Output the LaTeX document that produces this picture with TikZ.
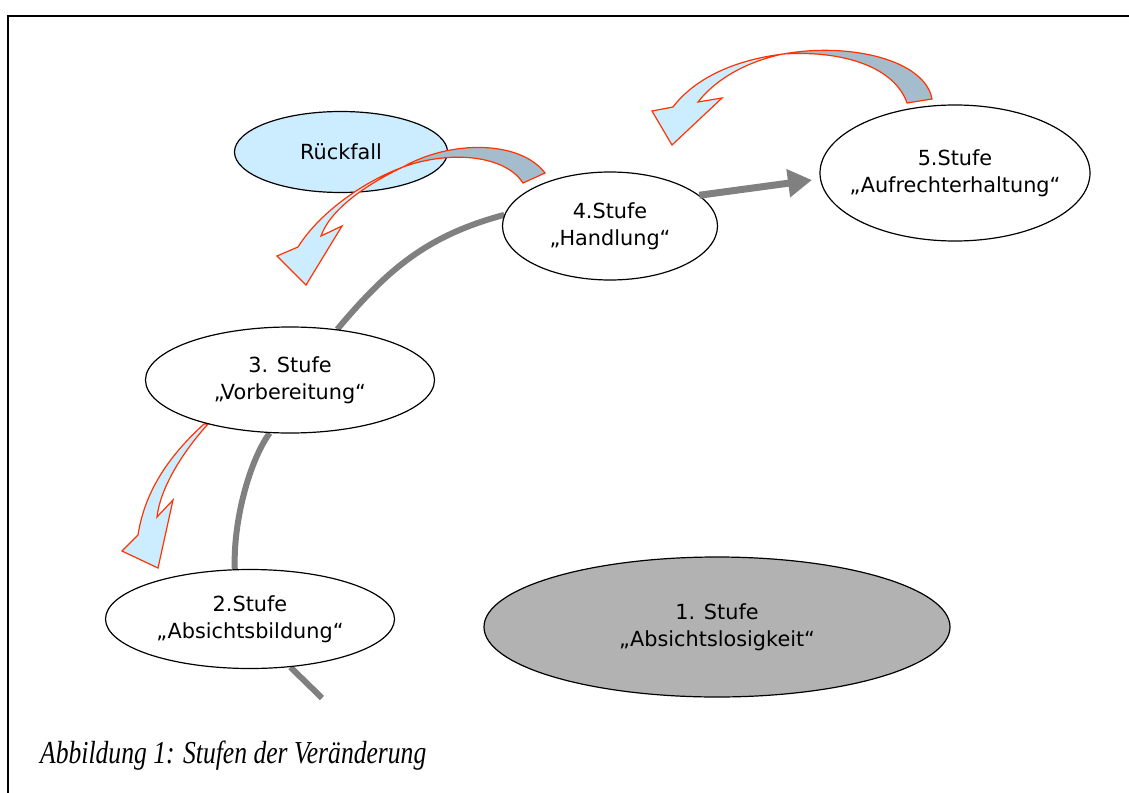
\documentclass[tikz,border=0pt]{standalone}
\usepackage{fontspec}
\usepackage{graphicx}
\setmainfont{DejaVu Sans}
\newfontfamily\capfont{Liberation Serif}
\usetikzlibrary{arrows.meta,shapes.geometric}
\definecolor{lblue}{HTML}{CCECFF}
\definecolor{dband}{HTML}{A4BCCB}
\definecolor{rline}{HTML}{FF3300}
\definecolor{gline}{HTML}{808080}
\definecolor{gfill}{HTML}{B2B2B2}
\pgfdeclarelayer{bg}
\pgfsetlayers{bg,main}
\tikzset{
  stage/.style={ellipse, draw=black, line width=1.2pt, fill=white, inner sep=0pt},
  stagetext/.style={align=center, font=\fontsize{20.8}{27}\selectfont, inner sep=0pt},
  gcurve/.style={draw=gline, line width=6pt},
  garrow/.style={draw=gline, line width=7pt, -{Triangle[length=24pt,width=27pt]}},
  lightband/.style={fill=lblue, draw=rline, line width=1.2pt, line join=miter},
  darkband/.style={fill=dband, draw=rline, line width=1.2pt, line join=miter},
  frame/.style={draw=black, line width=2.8pt}
}
\begin{document}
\begin{tikzpicture}[x=1pt,y=-1pt]
\useasboundingbox (0,0) rectangle (1129,792);
\clip (0,0) rectangle (1129,792);
\draw[frame] (1140,16) -- (8,16) -- (8,800);

% ellipses
\node[stage, fill=lblue, minimum width=213pt, minimum height=81pt] (nR) at (341,152) {};
\node[stagetext] (tR) at (nR) {Rückfall};
\node[stage, minimum width=215pt, minimum height=108pt] (n4) at (610,226) {};
\node[stagetext] (t4) at (n4) {4.Stufe\\„Handlung“};
\node[stage, minimum width=270pt, minimum height=136pt] (n5) at (955,173) {};
\node[stagetext] (t5) at (n5) {5.Stufe\\„Aufrechterhaltung“};
\node[stage, minimum width=289pt, minimum height=106pt] (n3) at (290,380) {};
\node[stagetext] (t3) at (n3) {3. Stufe\\„Vorbereitung“};
\node[stage, minimum width=289pt, minimum height=99pt] (n2) at (250,619) {};
\node[stagetext] (t2) at (n2) {2.Stufe\\„Absichtsbildung“};
\node[stage, fill=gfill, minimum width=466pt, minimum height=140pt] (n1) at (717,627) {};
\node[stagetext] (t1) at (n1) {1. Stufe\\„Absichtslosigkeit“};

% grey path behind ellipses
\coordinate (g0) at (322,698);
\begin{pgfonlayer}{bg}
\draw[gcurve] (g0) -- (n2.-50);
\draw[gcurve] (n2.107) .. controls (233,520) and (250,460) .. (n3.249);
\draw[gcurve] (n3.47) to[out=50,in=195] (n4.174);
% relapse arrow under stage 3
\filldraw[lightband] (204,424) .. controls (170,455) and (145,490) .. (138,535)
  -- (122,551) -- (158,568) -- (173,500) -- (157,517)
  .. controls (160,490) and (180,455) .. (208,424) -- cycle;
\end{pgfonlayer}

% grey arrow 4 -> 5
\coordinate (a5) at (812,180);
\draw[garrow] (n4.19) -- (a5);

% curved arrow from stage 4 to Rueckfall
\filldraw[lightband] (403,167) .. controls (360,183) and (318,215) .. (298,247)
  -- (277,256) -- (306,285) -- (342,226) -- (321,236)
  .. controls (330,210) and (365,185) .. (403,167) -- cycle;
\filldraw[darkband] (403,167) .. controls (450,140) and (520,140) .. (545,173)
  -- (523,183) .. controls (505,155) and (450,150) .. (403,167) -- cycle;

% curved arrow from stage 5
\filldraw[lightband] (783,54) .. controls (735,60) and (695,78) .. (673,107)
  -- (652,111) -- (672,145) -- (722,98) -- (698,102)
  .. controls (715,80) and (745,62) .. (783,54) -- cycle;
\filldraw[darkband] (783,54) .. controls (850,42) and (925,60) .. (932,99)
  -- (907,103) .. controls (895,68) and (845,50) .. (783,54) -- cycle;

% caption
\node[anchor=base west, inner sep=0pt, font=\capfont\itshape\fontsize{32}{32}\selectfont] (cap) at (40,763) {\scalebox{0.8}[1]{Abbildung 1: Stufen der Veränderung}};
\end{tikzpicture}
\end{document}
